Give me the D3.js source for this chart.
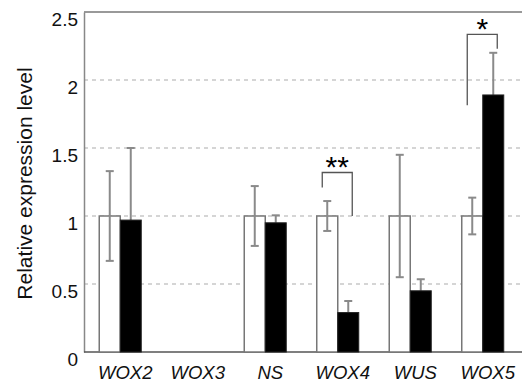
<!DOCTYPE html>
<html>
<head>
<meta charset="utf-8">
<script src="https://cdn.jsdelivr.net/npm/d3@7"></script>
<style>
  body { margin: 0; background: #fff; }
  svg { display: block; font-family: "Liberation Sans", Arial, Helvetica, sans-serif; }
</style>
</head>
<body>
<div id="chart"></div>
<script>
// Genes on the x axis
const genes = ['WOX2', 'WOX3', 'NS', 'WOX4', 'WUS', 'WOX5'];

// Control (white) and treated (black) means, with error (SD)
const controlMean = [1, null, 1, 1, 1, 1];
const controlErr = [0.33, null, 0.22, 0.11, 0.45, 0.135];
const treatedMean = [0.97, null, 0.95, 0.29, 0.45, 1.89];
const treatedErr = [0.53, null, 0.055, 0.085, 0.085, 0.31];

// Significance brackets: gene, top, left leg end, right leg end, label
const sigBrackets = [
  { gene: 'WOX4', top: 1.32, left: 1.21, right: 1.0, label: '**' },
  { gene: 'WOX5', top: 2.335, left: 1.815, right: 2.23, label: '*' }
];

const yTicks = [0, 0.5, 1, 1.5, 2, 2.5];
const gridValues = [0.5, 1, 1.5, 2];

const width = 522, height = 383;
const margin = { top: 12, right: 3, bottom: 31, left: 84 };

const svg = d3.select('#chart').append('svg')
  .attr('width', width)
  .attr('height', height);

const x0 = d3.scaleBand()
  .domain(genes)
  .range([margin.left, width - margin.right]);

const x1 = d3.scaleBand()
  .domain(['control', 'treated'])
  .range([0, x0.bandwidth()])
  .paddingOuter(0.726);

const y = d3.scaleLinear()
  .domain([0, 2.5])
  .range([height - margin.bottom, margin.top]);

// Dashed grid lines
svg.append('g')
  .selectAll('line')
  .data(gridValues)
  .join('line')
  .attr('x1', margin.left)
  .attr('x2', width)
  .attr('y1', d => y(d))
  .attr('y2', d => y(d))
  .attr('stroke', '#c8c8c8')
  .attr('stroke-width', 1.5)
  .attr('stroke-dasharray', '4,4');

// Top frame line
svg.append('line')
  .attr('x1', margin.left).attr('x2', width)
  .attr('y1', y(2.5)).attr('y2', y(2.5))
  .attr('stroke', '#777').attr('stroke-width', 1.3);

// Y axis
const yAxis = d3.axisLeft(y)
  .tickValues(yTicks)
  .tickFormat(d3.format('~g'))
  .tickSize(0)
  .tickPadding(6);

const yG = svg.append('g')
  .attr('transform', `translate(${margin.left},0)`)
  .call(yAxis);
yG.select('.domain').attr('stroke', '#888').attr('stroke-width', 1.5);
yG.selectAll('text')
  .attr('font-size', 19)
  .attr('fill', '#111')
  .attr('dy', '0.70em');

// X axis
const xAxis = d3.axisBottom(x0).tickSize(0).tickPadding(14);
const xG = svg.append('g')
  .attr('transform', `translate(0,${y(0)})`)
  .call(xAxis);
xG.select('.domain')
  .attr('d', `M${margin.left},0H${width}`)
  .attr('stroke', '#555').attr('stroke-width', 1.5);
xG.selectAll('text')
  .attr('font-size', 18.5)
  .attr('font-style', 'italic')
  .attr('fill', '#111')
  .attr('dx', 5);

// Y axis title
svg.append('text')
  .attr('transform', `translate(32,183.5) rotate(-90)`)
  .attr('text-anchor', 'middle')
  .attr('font-size', 21)
  .attr('fill', '#111')
  .text('Relative expression level');

const rows = genes.map((g, i) => ({
  gene: g,
  control: controlMean[i], controlErr: controlErr[i],
  treated: treatedMean[i], treatedErr: treatedErr[i]
})).filter(d => d.control !== null);

const capW = 8;

// White (control) bars
svg.append('g')
  .selectAll('rect')
  .data(rows)
  .join('rect')
  .attr('x', d => x0(d.gene) + x1('control'))
  .attr('y', d => y(d.control))
  .attr('width', x1.bandwidth())
  .attr('height', d => y(0) - y(d.control))
  .attr('fill', '#fff')
  .attr('stroke', '#777')
  .attr('stroke-width', 1.5);

// Control error bars (both directions)
const cErr = svg.append('g')
  .attr('stroke', '#8a8a8a')
  .attr('stroke-width', 2);
rows.forEach(d => {
  const cx = x0(d.gene) + x1('control') + x1.bandwidth() / 2;
  const hi = y(d.control + d.controlErr), lo = y(d.control - d.controlErr);
  cErr.append('line').attr('x1', cx).attr('x2', cx).attr('y1', hi).attr('y2', lo);
  cErr.append('line').attr('x1', cx - capW / 2).attr('x2', cx + capW / 2).attr('y1', hi).attr('y2', hi);
  cErr.append('line').attr('x1', cx - capW / 2).attr('x2', cx + capW / 2).attr('y1', lo).attr('y2', lo);
});

// Treated error bars (upper half only)
const tErr = svg.append('g')
  .attr('stroke', '#8a8a8a')
  .attr('stroke-width', 2);
rows.forEach(d => {
  const cx = x0(d.gene) + x1('treated') + x1.bandwidth() / 2;
  const hi = y(d.treated + d.treatedErr);
  tErr.append('line').attr('x1', cx).attr('x2', cx).attr('y1', hi).attr('y2', y(d.treated));
  tErr.append('line').attr('x1', cx - capW / 2).attr('x2', cx + capW / 2).attr('y1', hi).attr('y2', hi);
});

// Black (treated) bars
svg.append('g')
  .selectAll('rect')
  .data(rows)
  .join('rect')
  .attr('x', d => x0(d.gene) + x1('treated'))
  .attr('y', d => y(d.treated))
  .attr('width', x1.bandwidth())
  .attr('height', d => y(0) - y(d.treated))
  .attr('fill', '#000')
  .attr('stroke', '#222')
  .attr('stroke-width', 1);

// Significance brackets
const sig = svg.append('g');
sigBrackets.forEach(b => {
  const xl = x0(b.gene) + x1('control') + x1.bandwidth() / 2 - 5;
  const xr = x0(b.gene) + x1('treated') + x1.bandwidth() / 2 + 4;
  sig.append('path')
    .attr('d', `M${xl},${y(b.left)}V${y(b.top)}H${xr}V${y(b.right)}`)
    .attr('fill', 'none')
    .attr('stroke', '#555')
    .attr('stroke-width', 1.3);
  sig.append('text')
    .attr('x', (xl + xr) / 2)
    .attr('y', y(b.top))
    .attr('dy', 5)
    .attr('text-anchor', 'middle')
    .attr('font-size', 30)
    .attr('fill', '#000')
    .text(b.label);
});
</script>
</body>
</html>
